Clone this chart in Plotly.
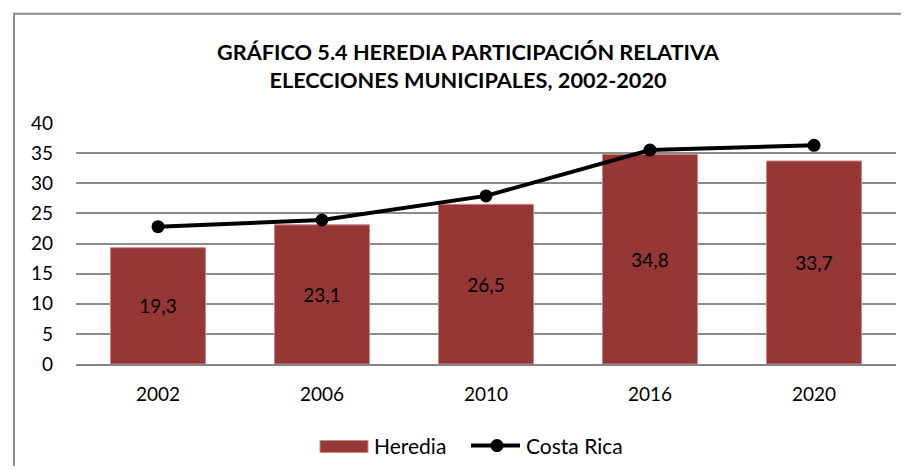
import plotly.graph_objects as go

years = ["2002", "2006", "2010", "2016", "2020"]
heredia = [19.3, 23.1, 26.5, 34.8, 33.7]
costa_rica = [22.8, 23.9, 27.9, 35.5, 36.3]
heredia_labels = ["19,3", "23,1", "26,5", "34,8", "33,7"]

# page body has an 8px margin; work in figure pixels
W, H = 893, 458
PL, PR, PT, PB = 68, 888, 115, 355.6
ml, mr, mt, mb = PL, W - PR, PT, H - PB
FONT = "Lato, Open Sans, sans-serif"


def px(x):
    return (x - PL) / (PR - PL)


def py(y):
    return (PB - y) / (PB - PT)


fig = go.Figure()
fig.add_trace(go.Bar(
    x=years, y=heredia, name="Heredia",
    marker=dict(color="#953735", line=dict(color="#c98a88", width=1)),
    width=0.58,
    text=heredia_labels, textposition="inside", insidetextanchor="middle",
    textfont=dict(family=FONT, size=19, color="#000000"),
    textangle=0,
))
fig.add_trace(go.Scatter(
    x=years, y=costa_rica, name="Costa Rica", mode="lines+markers",
    line=dict(color="#000000", width=4),
    marker=dict(color="#000000", size=13),
))

shapes = [
    # chart border
    dict(type="rect", xref="paper", yref="paper",
         x0=px(6), x1=px(W + 30), y0=py(H + 30), y1=py(6),
         line=dict(color="#8c8c8c", width=2), layer="below"),
    # legend: Heredia swatch
    dict(type="rect", xref="paper", yref="paper",
         x0=px(312), x1=px(360), y0=py(444), y1=py(432),
         fillcolor="#953735", line=dict(color="#c98a88", width=1)),
    # legend: Costa Rica line + marker
    dict(type="line", xref="paper", yref="paper",
         x0=px(463), x1=px(512), y0=py(437), y1=py(437),
         line=dict(color="#000000", width=4)),
    dict(type="circle", xref="paper", yref="paper",
         x0=px(482.5), x1=px(495.5), y0=py(443.5), y1=py(430.5),
         fillcolor="#000000", line=dict(color="#000000", width=0)),
]

annotations = [
    dict(text="Heredia", xref="paper", yref="paper", x=px(364), y=py(437),
         xanchor="left", yanchor="middle", showarrow=False,
         font=dict(family=FONT, size=21, color="#000000")),
    dict(text="Costa Rica", xref="paper", yref="paper", x=px(516), y=py(437),
         xanchor="left", yanchor="middle", showarrow=False,
         font=dict(family=FONT, size=21, color="#000000")),
]

fig.update_layout(
    width=W, height=H,
    margin=dict(l=ml, r=mr, t=mt, b=mb, autoexpand=False),
    paper_bgcolor="white", plot_bgcolor="white",
    font=dict(family=FONT, size=19, color="#000000"),
    title=dict(
        text="<b>GRÁFICO 5.4 HEREDIA PARTICIPACIÓN RELATIVA<br>ELECCIONES MUNICIPALES, 2002-2020</b>",
        x=460 / W, xanchor="center", xref="container",
        y=1 - 52 / H, yanchor="middle", yref="container",
        font=dict(family=FONT, size=21.7, color="#000000"),
    ),
    xaxis=dict(
        showgrid=False, showline=True, linecolor="#868686", linewidth=2,
        ticks="", tickfont=dict(size=19), ticklabelstandoff=12,
    ),
    yaxis=dict(
        range=[0, 40], dtick=5, showgrid=True, gridcolor="#8c8c8c", gridwidth=1.5,
        zeroline=False, showline=False, ticks="",
        tickfont=dict(size=19), ticklabelstandoff=22,
    ),
    bargap=0.42,
    showlegend=False,
    shapes=shapes,
    annotations=annotations,
)

fig.write_html("out.html")
